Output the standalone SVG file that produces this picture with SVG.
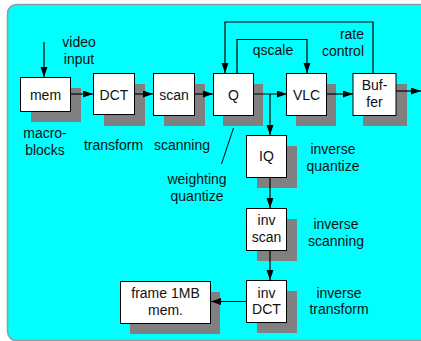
<svg xmlns="http://www.w3.org/2000/svg" width="421" height="341" viewBox="0 0 421 341">
<defs>
<marker id="ah" markerUnits="userSpaceOnUse" markerWidth="11" markerHeight="8" refX="10" refY="3.5" orient="auto">
<path d="M0,0 L10,3.5 L0,7 z" fill="#000"/>
</marker>
<style>
.bx{fill:#fff;stroke:#000;stroke-width:1}
.sh{fill:#808080}
.t{font-family:"Liberation Sans",Arial,sans-serif;font-size:14px;fill:#111;text-anchor:middle}
.c{fill:none;stroke:#000;stroke-width:1.2}
.a{marker-end:url(#ah)}
</style>
</defs>
<rect x="7.5" y="4.5" width="430" height="336" rx="9" fill="#00ffff" stroke="#999" stroke-width="1.5"/>
<g id="mem"><rect class="sh" x="31" y="88" width="50" height="34"/><rect class="bx" x="20.5" y="77.5" width="50" height="34"/><text class="t" x="45.5" y="99.5">mem</text></g>
<g id="dct"><rect class="sh" x="104" y="84" width="41" height="42"/><rect class="bx" x="93.5" y="73.5" width="41" height="41"/><text class="t" x="114" y="99.5">DCT</text></g>
<g id="scan"><rect class="sh" x="164" y="84" width="41" height="42"/><rect class="bx" x="153.5" y="73.5" width="41" height="42"/><text class="t" x="174" y="99.5">scan</text></g>
<g id="q"><rect class="sh" x="223" y="84" width="40" height="42"/><rect class="bx" x="213.5" y="73.5" width="40" height="42"/><text class="t" x="233.5" y="99.5">Q</text></g>
<g id="vlc"><rect class="sh" x="296" y="84" width="40" height="42"/><rect class="bx" x="286.5" y="73.5" width="40" height="42"/><text class="t" x="306.5" y="99.5">VLC</text></g>
<g id="buffer"><rect class="sh" x="363" y="84" width="44" height="42"/><rect class="bx" x="353" y="73.5" width="43" height="42"/><text class="t" x="374.5" y="90">Buf-</text><text class="t" x="374.5" y="107">fer</text></g>
<g id="iq"><rect class="sh" x="257" y="146" width="40" height="42"/><rect class="bx" x="246.5" y="135.5" width="40" height="42"/><text class="t" x="266.5" y="161">IQ</text></g>
<g id="invscan"><rect class="sh" x="257" y="219" width="40" height="42"/><rect class="bx" x="246.5" y="208.5" width="40" height="42"/><text class="t" x="266.5" y="225">inv</text><text class="t" x="266.5" y="242">scan</text></g>
<g id="invdct"><rect class="sh" x="257" y="291" width="40" height="42"/><rect class="bx" x="246.5" y="280.5" width="40" height="42"/><text class="t" x="266.5" y="297.5">inv</text><text class="t" x="266.5" y="314">DCT</text></g>
<g id="frame"><rect class="sh" x="130" y="292" width="90" height="42"/><rect class="bx" x="120.5" y="281.5" width="90" height="42"/><text class="t" x="165.5" y="298">frame 1MB</text><text class="t" x="165.5" y="315">mem.</text></g>
<g id="connectors">
<line class="c a" x1="44" y1="42" x2="44" y2="77"/>
<line class="c a" x1="71" y1="94" x2="93" y2="94"/>
<line class="c a" x1="134" y1="94" x2="153" y2="94"/>
<line class="c a" x1="194" y1="94" x2="213" y2="94"/>
<line class="c a" x1="253" y1="94" x2="287" y2="94"/>
<polyline class="c a" points="270,94 270,135"/>
<line class="c a" x1="327" y1="94" x2="353" y2="94"/>
<line class="c a" x1="396" y1="91" x2="421" y2="91"/>
<polyline class="c a" points="237,73 237,39.5 307,39.5 307,73"/>
<polyline class="c a" points="373,73 373,22 225,22 225,73"/>
<line class="c a" x1="270" y1="177" x2="270" y2="208"/>
<line class="c a" x1="270" y1="250" x2="270" y2="280"/>
<line class="c a" x1="247" y1="301.5" x2="211" y2="301.5"/>
<line x1="233.5" y1="128" x2="221.5" y2="164" stroke="#000" stroke-width="1"/>
</g>
<g id="labels">
<text class="t" x="79" y="47">video</text><text class="t" x="79" y="64">input</text>
<text class="t" x="45" y="138">macro-</text><text class="t" x="45" y="155">blocks</text>
<text class="t" x="113.5" y="150">transform</text>
<text class="t" x="182" y="150">scanning</text>
<text class="t" x="273" y="55">qscale</text>
<text class="t" x="364" y="39" style="text-anchor:end">rate</text><text class="t" x="364" y="56" style="text-anchor:end">control</text>
<text class="t" x="333" y="154">inverse</text><text class="t" x="333" y="171">quantize</text>
<text class="t" x="197" y="184">weighting</text><text class="t" x="197" y="201">quantize</text>
<text class="t" x="336" y="229">inverse</text><text class="t" x="336" y="246">scanning</text>
<text class="t" x="339" y="298">inverse</text><text class="t" x="339" y="314">transform</text>
</g>
</svg>
